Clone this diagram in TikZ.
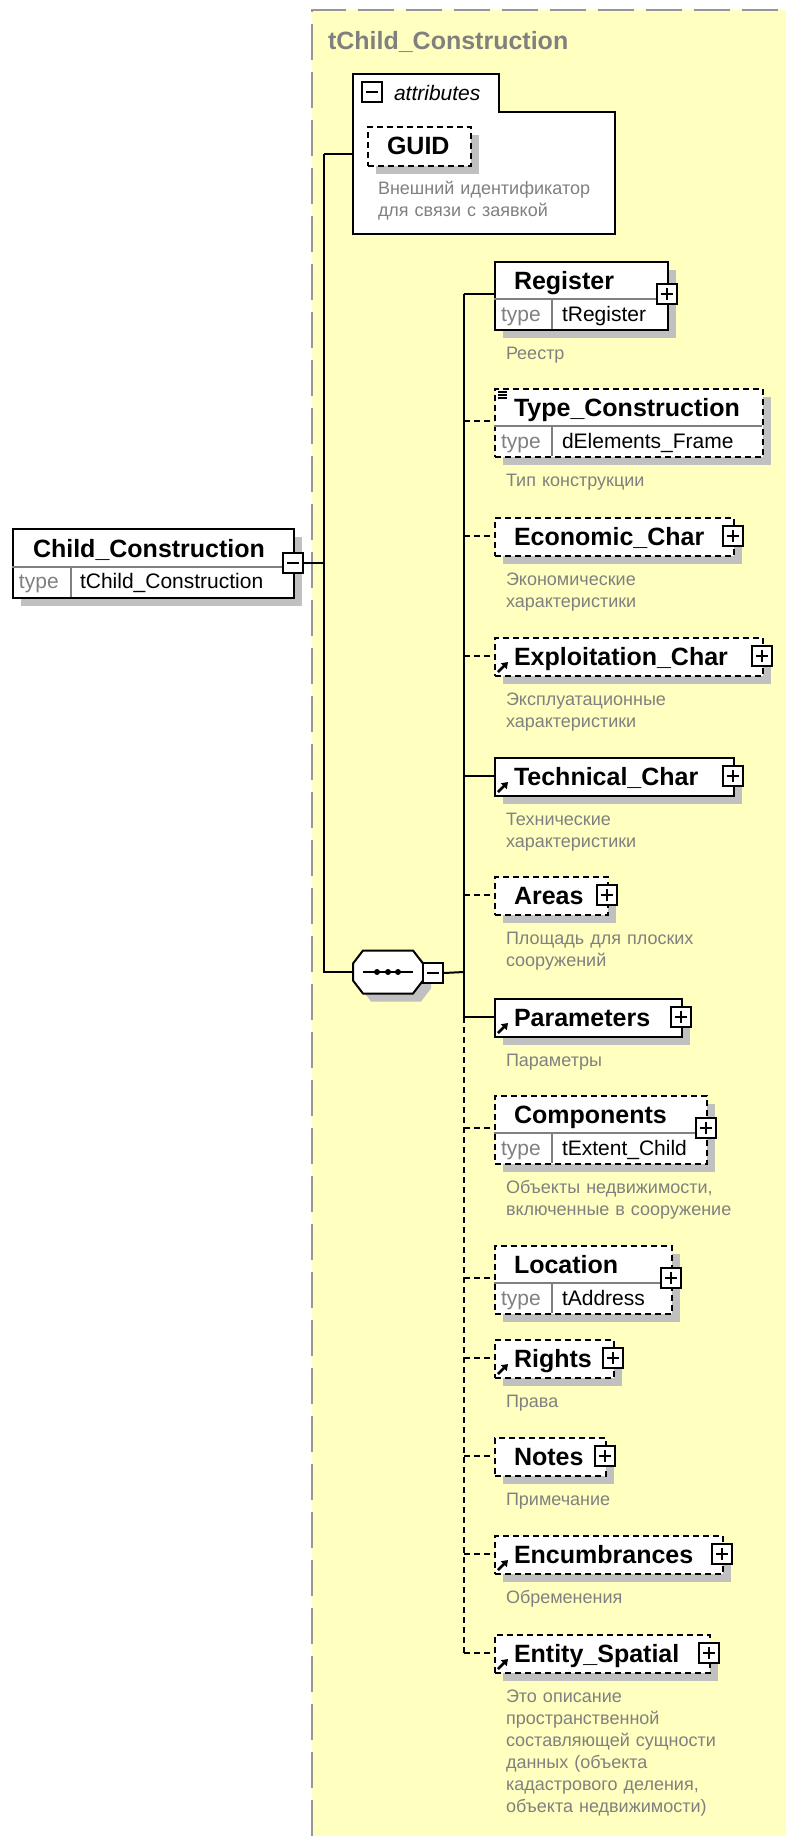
\documentclass[tikz,border=0pt]{standalone}
\usepackage{fontspec}
\setmainfont{Liberation Sans}
\usetikzlibrary{arrows.meta, shadows}
\definecolor{xsdyellow}{RGB}{255,255,192}
\definecolor{frame}{RGB}{150,150,150}
\definecolor{soft}{RGB}{128,128,128}
\definecolor{shade}{RGB}{192,192,192}

\begin{document}
\begin{tikzpicture}[x=1pt, y=-1pt, line width=2pt,
  shadowed/.style={drop shadow={shadow xshift=8pt, shadow yshift=-8pt, fill=shade, opacity=1}},
  box/.style={draw, fill=white, anchor=north west, inner sep=0pt, shadowed},
  required/.style={solid},
  optional/.style={dash pattern=on 6pt off 4pt},
  divider/.style={soft, line width=1.5pt, solid},
  ename/.style={anchor=base west, inner sep=0pt, font=\fontsize{25}{30}\selectfont\bfseries},
  tname/.style={anchor=base west, inner sep=0pt, font=\fontsize{21}{25}\selectfont},
  tlab/.style={tname, text=soft},
  note/.style={anchor=base west, inner sep=0pt, text width=300pt, align=left,
    text=soft, font=\fontsize{18}{22}\selectfont},
  refarrow/.style={solid, line width=2.6pt, -{Triangle[length=6pt,width=8pt]}},
  iconbox/.style={draw, solid, fill=white, line width=1.5pt, minimum size=20pt, inner sep=0pt},
  expandminus/.style={iconbox, path picture={
    \draw[line width=1.5pt] ([xshift=4pt]path picture bounding box.west)
      -- ([xshift=-4pt]path picture bounding box.east);}},
  expandplus/.style={iconbox, path picture={
    \draw[line width=1.5pt] ([xshift=4pt]path picture bounding box.west)
      -- ([xshift=-4pt]path picture bounding box.east)
      ([yshift=-4pt]path picture bounding box.north)
      -- ([yshift=4pt]path picture bounding box.south);}}]
  \useasboundingbox (0,0) rectangle (786,1836);
  % complex type frame
  \fill[xsdyellow] (312,10) rectangle (786,1836);
  \draw[frame, dash pattern=on 36pt off 12pt] (312,1836) -- (312,10) -- (786,10);
  \node[ename, text=soft] (ctype) at (327,50) {tChild\_Construction};

  % root element
  \node[box, minimum width=281pt, minimum height=69pt] (root) at (12,528) {};
  \draw[divider] (12,567) -- (293,567) (71,567) -- (71,597);
  \node[ename] (root-name) at (32,557) {Child\_Construction};
  \node[tlab] (root-tlab) at (18,588) {type};
  \node[tname] (root-tval) at (79,588) {tChild\_Construction};
  \node[expandminus] (root-minus) at (293,563) {};
  \coordinate (spine) at (324,563);
  \draw (root-minus.east) -- (spine);

  % attributes
  \draw[fill=white] (353,74) -- (499,74) -- (499,112) -- (615,112)
    -- (615,234) -- (353,234) -- cycle;
  \node[expandminus] (attr-minus) at (372,92) {};
  \node[anchor=base west, inner sep=0pt, font=\fontsize{21}{25}\selectfont\itshape]
    (attr-lab) at (393,100) {attributes};
  \node[box, optional, minimum width=103pt, minimum height=39pt] (guid) at (367,126) {};
  \node[ename] (guid-name) at (386,154) {GUID};
  \node[note] (guid-note) at (377,194) {Внешний идентификатор\\для связи с заявкой};
  \coordinate (attr-in) at (353,154);
  \draw (spine |- attr-in) -- (attr-in);

  % sequence compositor
  \node[minimum width=68pt, minimum height=41pt, inner sep=0pt] (seq) at (388,972) {};
  \draw[fill=white, shadowed] ([xshift=10pt]seq.north west) -- ([xshift=-10pt]seq.north east)
    -- ([yshift=-13pt]seq.north east) -- ([yshift=13pt]seq.south east)
    -- ([xshift=-10pt]seq.south east) -- ([xshift=10pt]seq.south west)
    -- ([yshift=13pt]seq.south west) -- ([yshift=-13pt]seq.north west) -- cycle;
  \draw ([xshift=-25pt]seq.center) -- ([xshift=25pt]seq.center);
  \foreach \dx in {-11,0,10}
    \fill ([xshift=\dx pt]seq.center) circle (3pt);
  \node[expandminus] (seq-minus) at (433,973) {};
  \coordinate (trunk) at (464,972);
  \draw (spine |- attr-in) -- (spine |- seq) -- (seq.west);
  \draw (seq-minus.east) -- (trunk);

  % children with a type row
  \foreach \id/\ty/\r/\lab/\typ/\opt/\ico/\desc in {
      reg/261/667/Register/tRegister/required/1/{Реестр},
      tc/388/762/Type\_Construction/dElements\_Frame/optional/0/{Тип конструкции},
      comp/1095/706/Components/tExtent\_Child/optional/1/{Объекты недвижимости,\\включенные в сооружение},
      loc/1245/671/Location/tAddress/optional/1/{}} {
    \pgfmathsetmacro{\w}{\r-494}
    \node[box, \opt, minimum width=\w pt, minimum height=68pt] (\id) at (494,\ty) {};
    \draw[divider] (494,\ty+38) -- (\r,\ty+38) (552,\ty+38) -- (552,\ty+68);
    \node[ename] (\id-name) at (513,\ty+28) {\lab};
    \node[tlab] (\id-tlab) at (500,\ty+60) {type};
    \node[tname] (\id-tval) at (561,\ty+60) {\typ};
    \ifnum\ico=1
      \node[expandplus] (\id-plus) at (\r,\ty+33) {};
    \fi
    \coordinate (\id-in) at (494,\ty+33);
    \draw[\opt] (trunk |- \id-in) -- (\id-in);
    \ifx\desc\empty\else
      \node[note] (\id-note) at (505,\ty+98) {\desc};
    \fi
  }
  \foreach \k in {0,1,2}
    \draw[line width=1.2pt] (498,392+3*\k) -- ++(9,0);

  % children without a type row
  \foreach \id/\ty/\r/\lab/\opt/\refm/\desc in {
      eco/517/733/Economic\_Char/optional/0/{Экономические\\характеристики},
      exp/637/762/Exploitation\_Char/optional/1/{Эксплуатационные\\характеристики},
      tech/757/733/Technical\_Char/required/1/{Технические\\характеристики},
      area/876/607/Areas/optional/0/{Площадь для плоских\\сооружений},
      par/998/681/Parameters/required/1/{Параметры},
      rig/1339/613/Rights/optional/1/{Права},
      note/1437/605/Notes/optional/0/{Примечание},
      enc/1535/722/Encumbrances/optional/1/{Обременения},
      ent/1634/709/Entity\_Spatial/optional/1/{Это описание\\пространственной\\составляющей сущности\\данных (объекта\\кадастрового деления,\\объекта недвижимости)}} {
    \pgfmathsetmacro{\w}{\r-494}
    \node[box, \opt, minimum width=\w pt, minimum height=38pt] (\id) at (494,\ty) {};
    \node[ename] (\id-name) at (513,\ty+28) {\lab};
    \node[expandplus] (\id-plus) at (\r,\ty+19) {};
    \ifnum\refm=1
      \draw[refarrow] (498,\ty+35) -- ++(10,-10);
    \fi
    \coordinate (\id-in) at (494,\ty+19);
    \draw[\opt] (trunk |- \id-in) -- (\id-in);
    \node[note] (\id-note) at (505,\ty+68) {\desc};
  }
  \draw (trunk |- reg-in) -- (trunk |- par-in);
  \draw[optional] (trunk |- par-in) -- (trunk |- ent-in);
\end{tikzpicture}
\end{document}
